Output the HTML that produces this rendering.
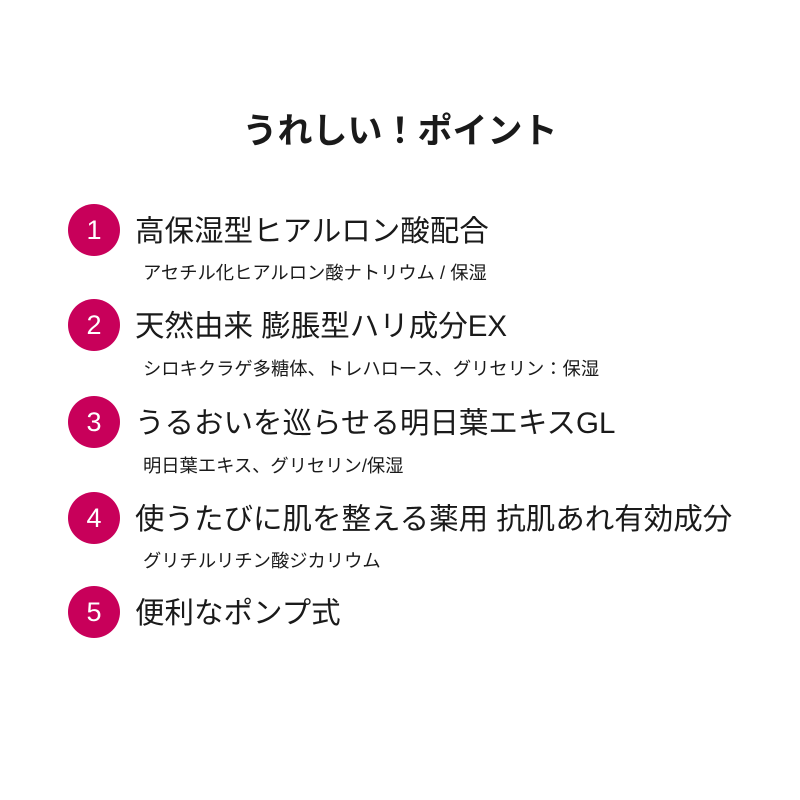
<!DOCTYPE html>
<html><head><meta charset="utf-8"><style>
html,body{margin:0;padding:0;background:#fff;}
body{width:800px;height:800px;position:relative;font-family:"Liberation Sans","Noto Sans CJK JP",sans-serif;color:#1a1a1a;}
.t{position:absolute;left:0;width:800px;top:110px;text-align:center;font-size:35px;font-weight:bold;line-height:44px;}
.c{position:absolute;left:68px;width:52px;height:52px;border-radius:50%;background:#c8005a;color:#fff;font-size:27px;line-height:52px;text-align:center;}
.m{position:absolute;left:135px;font-size:29.5px;line-height:40px;white-space:nowrap;}
.s{position:absolute;left:143px;font-size:18.3px;line-height:24px;white-space:nowrap;}
</style></head><body>
<div class="t">うれしい！ポイント</div>
<div class="c" style="top:204px">1</div><div class="m" style="top:212px">高保湿型ヒアルロン酸配合</div>
<div class="s" style="top:261px">アセチル化ヒアルロン酸ナトリウム / 保湿</div>
<div class="c" style="top:299px">2</div><div class="m" style="top:307px">天然由来 膨脹型ハリ成分EX</div>
<div class="s" style="top:357px">シロキクラゲ多糖体、トレハロース、グリセリン：保湿</div>
<div class="c" style="top:396px">3</div><div class="m" style="top:404px">うるおいを巡らせる明日葉エキスGL</div>
<div class="s" style="top:454px">明日葉エキス、グリセリン/保湿</div>
<div class="c" style="top:492px">4</div><div class="m" style="top:500px">使うたびに肌を整える薬用 抗肌あれ有効成分</div>
<div class="s" style="top:549px">グリチルリチン酸ジカリウム</div>
<div class="c" style="top:586px">5</div><div class="m" style="top:594px">便利なポンプ式</div>
</body></html>
